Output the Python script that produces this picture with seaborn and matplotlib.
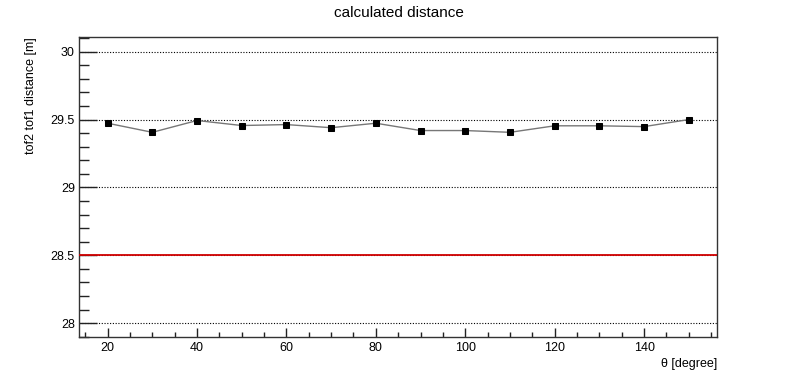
import numpy as np
import pandas as pd
import matplotlib
matplotlib.use("Agg")
import matplotlib.pyplot as plt
from matplotlib.ticker import MultipleLocator
import seaborn as sns

# ── 데이터 ──────────────────────────────
theta = [20, 30, 40, 50, 60, 70, 80, 90, 100, 110, 120, 130, 140, 150]
distance = [29.473, 29.406, 29.493, 29.456, 29.463, 29.440, 29.473,
            29.419, 29.419, 29.406, 29.454, 29.454, 29.448, 29.500]
ref_distance = 28.5

df = pd.DataFrame({"theta": theta, "distance": distance})

# ── 스타일 ──────────────────────────────
sns.set_style("white", {"text.color": "black", "axes.labelcolor": "black",
                        "xtick.color": "black", "ytick.color": "black"})
plt.rcParams["font.family"] = ["Liberation Sans", "DejaVu Sans"]

fig = plt.figure(figsize=(7.98, 3.75), dpi=100)
ax = fig.add_axes([0.099, 0.102, 0.800, 0.800])

ax.axhline(ref_distance, color="#d00000", lw=1.3, zorder=3)
sns.lineplot(data=df, x="theta", y="distance", ax=ax, color="#777777", lw=1.0,
             marker="s", markersize=5, markerfacecolor="black",
             markeredgecolor="black", zorder=4)

ax.set_xlim(13.6, 156.4)
ax.set_ylim(27.9, 30.11)

ax.yaxis.set_major_locator(MultipleLocator(0.5))
ax.yaxis.set_minor_locator(MultipleLocator(0.1))
ax.xaxis.set_major_locator(MultipleLocator(20))
ax.xaxis.set_minor_locator(MultipleLocator(5))
ax.set_yticks([28, 28.5, 29, 29.5, 30])
ax.set_yticklabels(["28", "28.5", "29", "29.5", "30"])

ax.yaxis.grid(True, which="major", linestyle=(0, (1, 1.5)), color="black", lw=0.8)
ax.set_axisbelow(True)

ax.tick_params(axis="y", which="major", direction="in", length=13, width=1,
               labelsize=9, pad=3, color="#222222", left=True)
ax.tick_params(axis="y", which="minor", direction="in", length=7, width=1,
               color="#222222", left=True)
ax.tick_params(axis="x", which="major", direction="in", length=6.5, width=1,
               labelsize=9, pad=4, color="#222222", bottom=True)
ax.tick_params(axis="x", which="minor", direction="in", length=3.6, width=1,
               color="#222222", bottom=True)
ax.tick_params(top=False, right=False, which="both")

for s in ax.spines.values():
    s.set_color("#333333")
    s.set_linewidth(1.0)

ax.set_xlabel("θ [degree]", fontsize=9, loc="right", labelpad=3)
ax.set_ylabel("tof2 tof1 distance [m]", fontsize=9, loc="top", labelpad=10)
fig.suptitle("calculated distance", fontsize=11, x=0.5, y=0.985)

fig.savefig("out.png", dpi=100)
